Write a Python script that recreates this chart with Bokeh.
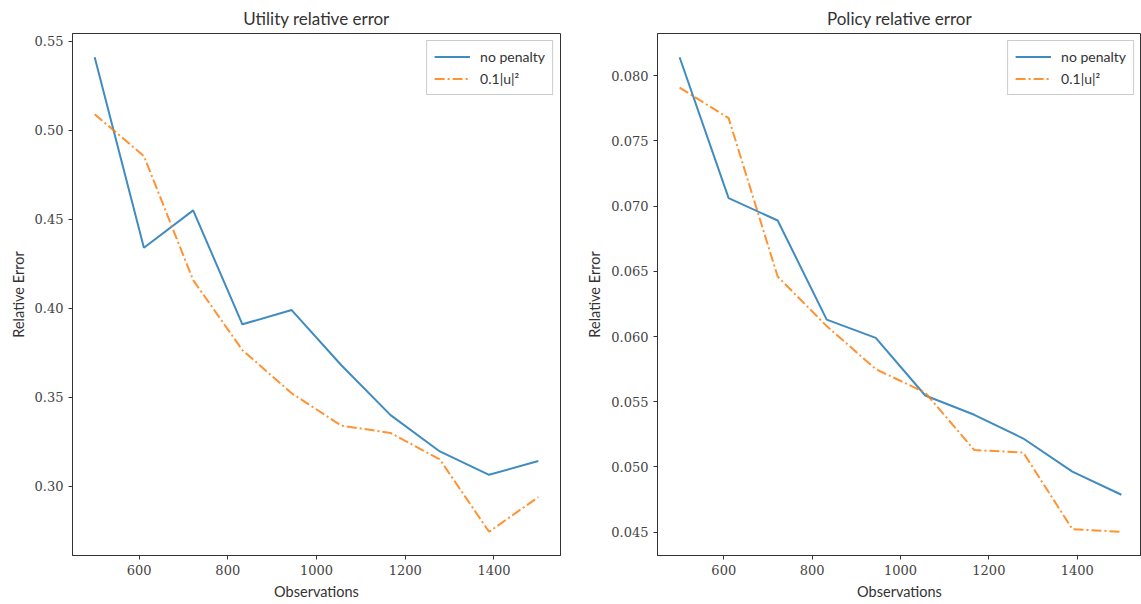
from bokeh.plotting import figure
from bokeh.layouts import row
from bokeh.models import Range1d, FixedTicker, Legend, LegendItem, NumeralTickFormatter
from bokeh.embed import file_html
from bokeh.resources import INLINE

# ---- data ----
observations = [500, 611, 722, 833, 944, 1056, 1167, 1278, 1389, 1500]
utility_no_penalty = [0.541, 0.434, 0.455, 0.391, 0.399, 0.368, 0.340, 0.3196, 0.3065, 0.3142]
utility_penalty = [0.509, 0.4855, 0.4158, 0.3765, 0.3523, 0.3341, 0.3300, 0.3151, 0.2745, 0.2940]
policy_no_penalty = [0.08142, 0.07062, 0.0689, 0.0613, 0.0599, 0.05548, 0.0540, 0.05218, 0.04964, 0.04787]
policy_penalty = [0.07909, 0.07675, 0.0646, 0.0608, 0.0575, 0.0557, 0.0513, 0.0511, 0.04523, 0.04503]

x_ticks = [600, 800, 1000, 1200, 1400]
utility_ticks = [0.30, 0.35, 0.40, 0.45, 0.50, 0.55]
policy_ticks = [0.045, 0.050, 0.055, 0.060, 0.065, 0.070, 0.075, 0.080]

series_labels = ["no penalty", "0.1|u|²"]
titles = ["Utility relative error", "Policy relative error"]

BLUE = "#1f77b4"
ORANGE = "#ff7f0e"
SANS = "Lato"
SERIF = "DejaVu Serif"


def yrange(a, b):
    lo = min(min(a), min(b))
    hi = max(max(a), max(b))
    m = (hi - lo) * 0.05
    return Range1d(lo - m, hi + m)


def make(title, ya, yb, yticks, fmt, width, bl, br, xend):
    p = figure(width=width, height=604, output_backend="svg", toolbar_location=None,
               x_range=Range1d(450, xend), y_range=yrange(ya, yb),
               min_border_left=bl, min_border_right=br, min_border_top=33, min_border_bottom=49)
    p.title.text = title
    p.title.align = "center"
    p.title.text_font = SANS
    p.title.text_font_style = "normal"
    p.title.text_font_size = "17px"
    p.title.text_color = "#333333"
    p.title.standoff = 10
    p.grid.visible = False
    p.outline_line_color = "#333333"
    p.outline_line_alpha = 1
    p.outline_line_width = 1
    p.background_fill_color = "white"
    p.border_fill_color = "white"

    l1 = p.line(observations, ya, line_color=BLUE, line_width=2, line_alpha=0.85)
    l2 = p.line(observations, yb, line_color=ORANGE, line_width=2, line_alpha=0.85,
                line_dash="10 3 2 3")

    p.xaxis.ticker = FixedTicker(ticks=x_ticks)
    p.yaxis.ticker = FixedTicker(ticks=yticks)
    p.yaxis.formatter = NumeralTickFormatter(format=fmt)
    for ax in (p.xaxis, p.yaxis):
        ax.axis_line_color = "#333333"
        ax.major_tick_line_color = "#333333"
        ax.major_tick_out = 4
        ax.major_tick_in = 0
        ax.minor_tick_line_color = None
        ax.major_label_text_font = SERIF
        ax.major_label_text_font_size = "13px"
        ax.major_label_text_color = "#444444"
        ax.axis_label_text_font = SANS
        ax.axis_label_text_font_style = "normal"
        ax.axis_label_text_font_size = "14.5px"
        ax.axis_label_text_color = "#333333"
        ax.axis_label_standoff = 5
    p.xaxis.axis_label = "Observations"
    p.yaxis.axis_label = "Relative Error"

    legend = Legend(items=[LegendItem(label=series_labels[0], renderers=[l1]),
                           LegendItem(label=series_labels[1], renderers=[l2])],
                    location="top_right", margin=7, padding=7, spacing=5,
                    glyph_width=36, glyph_height=17, label_standoff=10,
                    label_text_font=SANS, label_text_font_size="14px",
                    label_text_color="#333333",
                    border_line_color="#cccccc", border_line_alpha=1,
                    background_fill_alpha=0.8)
    p.add_layout(legend)
    return p


p1 = make(titles[0], utility_no_penalty, utility_penalty, utility_ticks, "0.00",
          580, 72, 20, 1550)
p2 = make(titles[1], policy_no_penalty, policy_penalty, policy_ticks, "0.000",
          561, 77, 0, 1545.5)

layout = row(p1, p2)
open("out.html", "w").write(file_html(layout, INLINE))
